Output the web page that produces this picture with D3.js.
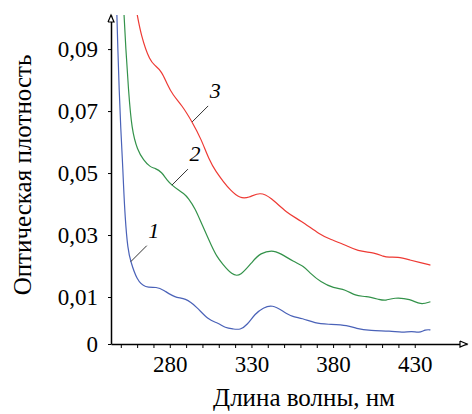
<!DOCTYPE html>
<html>
<head>
<meta charset="utf-8">
<script src="https://cdn.jsdelivr.net/npm/d3@7"></script>
<style>
  body { margin: 0; background: #fff; }
</style>
</head>
<body>
<div id="chart"></div>
<script>
// wavelengths (nm) and optical density
var wl1 = [247.5, 248.2, 249.0, 250.0, 251.0, 251.6, 252.6, 254.3, 256.1, 259.8, 264.9, 272.1, 276.1, 283.3, 289.4, 296.6, 303.5, 309.7, 313.9, 318.9, 323.1, 327.3, 332.3, 337.2, 342.6, 349.7, 354.8, 361.0, 369.1, 376.3, 389.5, 393.7, 402.9, 415.1, 422.3, 428.4, 432.5, 436.6, 439.6];
var od1 = [0.103, 0.0897, 0.0768, 0.0639, 0.0542, 0.0468, 0.0358, 0.0252, 0.0214, 0.0155, 0.0129, 0.0133, 0.0123, 0.0098, 0.0098, 0.0079, 0.0051, 0.0045, 0.0034, 0.0032, 0.0030, 0.0040, 0.0065, 0.0077, 0.0084, 0.0069, 0.0058, 0.0055, 0.0044, 0.0042, 0.0040, 0.0033, 0.0028, 0.0028, 0.0024, 0.0028, 0.0023, 0.0031, 0.0030];

var wl2 = [251.8, 253.1, 254.7, 256.7, 260.2, 263.9, 268.0, 271.0, 275.1, 278.2, 281.3, 285.3, 288.4, 291.4, 295.6, 299.6, 305.8, 308.9, 311.9, 318.1, 323.1, 331.3, 335.4, 342.6, 347.7, 355.8, 362.0, 366.1, 372.2, 380.4, 387.5, 393.7, 399.8, 409.0, 412.1, 417.1, 427.4, 433.5, 439.6];
var od2 = [0.103, 0.0897, 0.0768, 0.0639, 0.0574, 0.0542, 0.0519, 0.0516, 0.0503, 0.0477, 0.0461, 0.0445, 0.0435, 0.0419, 0.0385, 0.0335, 0.0262, 0.0230, 0.0209, 0.0171, 0.0165, 0.0219, 0.0241, 0.0252, 0.0241, 0.0214, 0.0200, 0.0176, 0.0149, 0.0128, 0.0125, 0.0103, 0.0103, 0.0094, 0.0092, 0.0099, 0.0096, 0.0083, 0.0090];

var wl3 = [259.4, 262.4, 268.0, 271.0, 275.1, 278.2, 281.8, 287.4, 293.7, 299.2, 304.1, 308.4, 312.9, 317.0, 323.1, 328.2, 335.4, 341.5, 351.8, 359.9, 372.2, 378.3, 387.5, 394.7, 405.9, 411.0, 414.1, 419.2, 427.4, 433.5, 439.6];
var od3 = [0.103, 0.0942, 0.0859, 0.0848, 0.0827, 0.0789, 0.0752, 0.0719, 0.0665, 0.0610, 0.0542, 0.0503, 0.0472, 0.0445, 0.0418, 0.0420, 0.0439, 0.0423, 0.0370, 0.0348, 0.0300, 0.0286, 0.0268, 0.0248, 0.0243, 0.0230, 0.0228, 0.0230, 0.0219, 0.0211, 0.0203];

var seriesNames = ["1", "2", "3"];
var seriesColors = ["#4a62b8", "#33924a", "#ee3a34"];
// curve point each number label points at
var labelWl = [256.1, 281.3, 293.7];

var xTicks = [250, 260, 270, 280, 290, 300, 310, 320, 330, 340, 350, 360, 370, 380, 390, 400, 410, 420, 430];
var xTickLabels = [280, 330, 380, 430];
var yTicks = [0, 0.01, 0.03, 0.05, 0.07, 0.09];

var width = 472, height = 414;
var serif = "'Liberation Serif', Tinos, 'Times New Roman', Times, 'DejaVu Serif', 'Noto Serif', serif";

var svg = d3.select("#chart").append("svg")
    .attr("width", width)
    .attr("height", height)
    .attr("font-family", serif);

var x = d3.scaleLinear().domain([244, 462]).range([111, 467]);
// the picture's zero sits lower than the even 0.01 steps would put it
var y = d3.scaleLinear().domain([0, 0.01, 0.101]).range([344, 297, 15]);

svg.append("clipPath").attr("id", "plotclip")
    .append("rect")
    .attr("x", 111).attr("y", 15)
    .attr("width", 360).attr("height", 329);

//curves
var allSeries = [
    { name: seriesNames[0], wl: wl1, od: od1, color: seriesColors[0] },
    { name: seriesNames[1], wl: wl2, od: od2, color: seriesColors[1] },
    { name: seriesNames[2], wl: wl3, od: od3, color: seriesColors[2] }
];

var line = d3.line()
    .x(function (d) { return x(d[0]); })
    .y(function (d) { return y(d[1]); })
    .curve(d3.curveBasis);

allSeries.forEach(function (s, i) {
    var pts = s.wl.map(function (w, j) { return [w, s.od[j]]; });
    svg.append("path")
        .datum(pts)
        .attr("clip-path", "url(#plotclip)")
        .attr("fill", "none")
        .attr("stroke", s.color)
        .attr("stroke-width", 1.2)
        .attr("d", line);

    //leader line + number
    var w = labelWl[i];
    var j = s.wl.indexOf(w);
    var px = x(w), py = y(s.od[j]);
    svg.append("line")
        .attr("x1", px).attr("y1", py)
        .attr("x2", px + 16).attr("y2", py - 16)
        .attr("stroke", "#333")
        .attr("stroke-width", 1);
    svg.append("text")
        .attr("x", px + 23).attr("y", py - 24)
        .attr("text-anchor", "middle")
        .attr("font-family", serif)
        .attr("font-style", "italic")
        .attr("font-size", 22)
        .text(s.name);
});

// x axis
var xAxis = d3.axisBottom(x)
    .tickValues(xTicks)
    .tickSize(4)
    .tickSizeOuter(0)
    .tickPadding(8)
    .tickFormat(function (d) { return xTickLabels.indexOf(d) >= 0 ? d : ""; });

var gx = svg.append("g")
    .attr("transform", "translate(0," + y(0) + ")")
    .call(xAxis);

// y axis
var yAxis = d3.axisLeft(y)
    .tickValues(yTicks)
    .tickSize(3)
    .tickSizeOuter(0)
    .tickPadding(10)
    .tickFormat(function (d) { return d === 0 ? "0" : d3.format(".2f")(d).replace(".", ","); });

var gy = svg.append("g")
    .attr("transform", "translate(" + x(244) + ",0)")
    .call(yAxis);

[gx, gy].forEach(function (g) {
    g.attr("font-family", serif).attr("font-size", 23);
    g.selectAll("path").attr("stroke", "#000").attr("stroke-width", 1.5);
    g.selectAll("line").attr("stroke", "#000");
    g.selectAll("text").attr("fill", "#000");
});

// arrow heads
svg.append("path")
    .attr("d", d3.line()([[x(244) - 3, 22], [x(244), 15], [x(244) + 3, 22], [x(244) - 3, 22]]))
    .attr("fill", "#fff").attr("stroke", "#000").attr("stroke-width", 1.2);
svg.append("path")
    .attr("d", d3.line()([[460, y(0) - 3], [467, y(0)], [460, y(0) + 3], [460, y(0) - 3]]))
    .attr("fill", "#fff").attr("stroke", "#000").attr("stroke-width", 1.2);

// axis titles
svg.append("text")
    .attr("x", 304).attr("y", 406)
    .attr("text-anchor", "middle")
    .attr("font-family", serif)
    .attr("font-size", 25)
    .text("Длина волны, нм");

svg.append("text")
    .attr("transform", "translate(31,175) rotate(-90)")
    .attr("text-anchor", "middle")
    .attr("font-family", serif)
    .attr("font-size", 25)
    .text("Оптическая плотность");
</script>
</body>
</html>
